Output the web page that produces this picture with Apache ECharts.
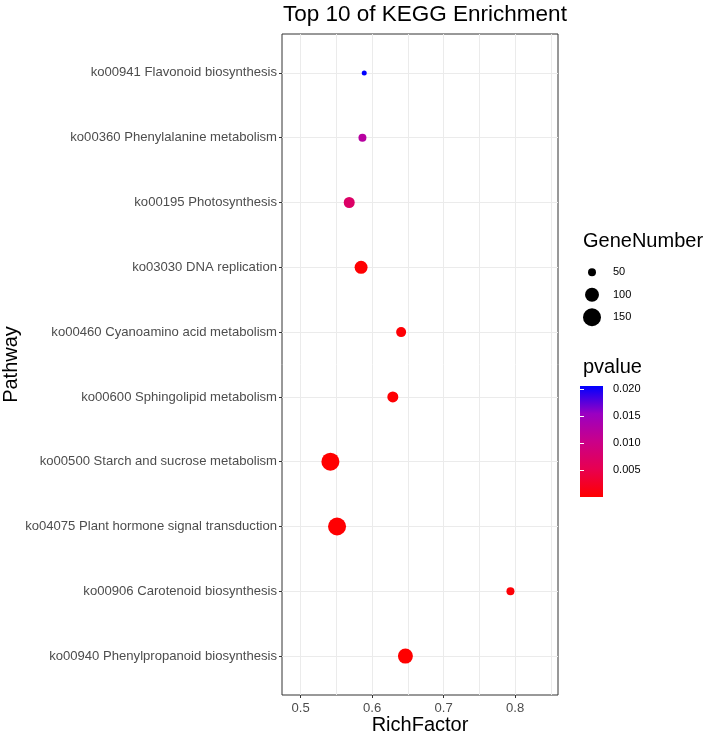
<!DOCTYPE html>
<html>
<head>
<meta charset="utf-8">
<script src="https://cdn.jsdelivr.net/npm/echarts@6/dist/echarts.min.js"></script>
<style>html,body{margin:0;padding:0;background:#fff;}#c{width:708px;height:737px;}</style>
</head>
<body>
<div id="c"></div>
<script>
// Data (top to bottom)
const pathways = [
  'ko00941 Flavonoid biosynthesis',
  'ko00360 Phenylalanine metabolism',
  'ko00195 Photosynthesis',
  'ko03030 DNA replication',
  'ko00460 Cyanoamino acid metabolism',
  'ko00600 Sphingolipid metabolism',
  'ko00500 Starch and sucrose metabolism',
  'ko04075 Plant hormone signal transduction',
  'ko00906 Carotenoid biosynthesis',
  'ko00940 Phenylpropanoid biosynthesis'
];
const richFactor = [0.589, 0.5865, 0.568, 0.5846, 0.6406, 0.629, 0.5417, 0.551, 0.7935, 0.6466];
const geneNumber = [35, 50, 72, 90, 64, 72, 150, 150, 50, 112];
const pvalue = [0.0206, 0.0124, 0.0072, 0.0002, 0.0004, 0.0003, 0.0001, 0.0002, 0.0005, 0.0001];
const sizeLegendValues = [50, 100, 150];
const pTickValues = [0.005, 0.010, 0.015, 0.020];
const xTickValues = [0.5, 0.6, 0.7, 0.8];
const xGridValues = [0.5, 0.55, 0.6, 0.65, 0.7, 0.75, 0.8, 0.85];

const pMin = Math.min(...pvalue), pMax = Math.max(...pvalue);
const gradColors = ['#FF0000', '#E80050', '#CA0089', '#9A00C2', '#0000FF'];
function sizeOf(n) { return Math.sqrt(Math.max(2.6 * n - 66, 9)); }

const chart = echarts.init(document.getElementById('c'), null, {renderer: 'canvas'});
const txt = '#4D4D4D';
const font = 'Liberation Sans, Arial, Helvetica, sans-serif';

const mainData = pathways.map((p, i) => [richFactor[i], i, geneNumber[i], pvalue[i]]);

chart.setOption({
  backgroundColor: '#fff',
  textStyle: {fontFamily: font},
  title: {
    text: 'Top 10 of KEGG Enrichment',
    left: 283, top: 3, padding: 0,
    textStyle: {fontSize: 22.5, fontWeight: 'normal', color: '#000', fontFamily: font}
  },
  visualMap: {
    show: false, type: 'continuous', seriesIndex: 0, dimension: 3,
    min: pMin, max: pMax,
    inRange: {color: gradColors}
  },
  grid: [
    {left: 282, right: 150, top: 34, bottom: 42, show: true, borderColor: '#333333', borderWidth: 1,
      backgroundColor: '#fff', z: 0, outerBoundsMode: 'none', containLabel: false},
    {left: 580, width: 24, top: 261, height: 67.5, show: false, outerBoundsMode: 'none', containLabel: false},
    {left: 580, width: 23, top: 386, height: 111, show: true, borderWidth: 0, outerBoundsMode: 'none', containLabel: false,
      backgroundColor: new echarts.graphic.LinearGradient(0, 1, 0, 0,
        gradColors.map((c, i) => ({offset: i / (gradColors.length - 1), color: c})))}
  ],
  xAxis: [
    {
      gridIndex: 0, type: 'value', min: 0.474, max: 0.86, position: 'bottom',
      name: 'RichFactor', nameLocation: 'middle', nameGap: 20,
      nameTextStyle: {fontSize: 20, color: '#000', fontFamily: font},
      axisLine: {show: false},
      axisTick: {show: false, customValues: xGridValues},
      axisLabel: {show: false, customValues: xGridValues},
      splitLine: {show: true, lineStyle: {color: '#EBEBEB', width: 1}}
    },
    {
      gridIndex: 0, type: 'value', min: 0.474, max: 0.86, position: 'bottom',
      axisLine: {show: false},
      axisTick: {show: true, length: 3, customValues: xTickValues, lineStyle: {color: '#333333'}},
      axisLabel: {show: true, customValues: xTickValues, fontSize: 13.1, color: txt, margin: 7,
        formatter: v => v.toFixed(1)},
      splitLine: {show: false}
    },
    {gridIndex: 1, type: 'value', min: 0, max: 1, show: false},
    {gridIndex: 2, type: 'value', min: 0, max: 1, show: false}
  ],
  yAxis: [
    {
      gridIndex: 0, type: 'value', min: -0.6, max: 9.6, inverse: true,
      name: 'Pathway', nameLocation: 'middle', nameGap: 254, nameRotate: 90,
      nameTextStyle: {fontSize: 20, color: '#000', fontFamily: font},
      axisLine: {show: false},
      axisTick: {show: true, length: 3, customValues: pathways.map((p, i) => i), lineStyle: {color: '#333333'}},
      axisLabel: {show: true, customValues: pathways.map((p, i) => i), fontSize: 13.1, color: txt, margin: 5,
        formatter: v => pathways[Math.round(v)]},
      splitLine: {show: true, lineStyle: {color: '#EBEBEB', width: 1}}
    },
    {
      gridIndex: 1, type: 'category', data: sizeLegendValues.map(String), inverse: true, position: 'right',
      axisLine: {show: false}, axisTick: {show: false},
      axisLabel: {fontSize: 11, color: '#000', margin: 9, align: 'left'}
    },
    {
      gridIndex: 2, type: 'value', min: pMin, max: pMax, position: 'right',
      axisLine: {show: false},
      axisTick: {show: true, inside: true, length: 4, customValues: pTickValues, lineStyle: {color: '#fff', width: 1}},
      axisLabel: {show: true, customValues: pTickValues, fontSize: 11, color: '#000', margin: 10,
        formatter: v => v.toFixed(3)},
      splitLine: {show: false}
    },
    {
      gridIndex: 2, type: 'value', min: pMin, max: pMax, position: 'left',
      axisLine: {show: false},
      axisTick: {show: true, inside: true, length: 4, customValues: pTickValues, lineStyle: {color: '#fff', width: 1}},
      axisLabel: {show: false},
      splitLine: {show: false}
    }
  ],
  graphic: [
    {type: 'text', left: 583, top: 231, style: {text: 'GeneNumber', fontSize: 20, fill: '#000', fontFamily: font}},
    {type: 'text', left: 583, top: 357, style: {text: 'pvalue', fontSize: 20, fill: '#000', fontFamily: font}}
  ],
  series: [
    {
      type: 'scatter', xAxisIndex: 0, yAxisIndex: 0,
      data: mainData,
      symbolSize: d => sizeOf(d[2]),
      itemStyle: {opacity: 1},
      z: 5
    },
    {
      type: 'scatter', xAxisIndex: 2, yAxisIndex: 1,
      data: sizeLegendValues.map((v, i) => [0.5, i, v]),
      symbolSize: d => sizeOf(d[2]),
      itemStyle: {color: '#000', opacity: 1}
    }
  ]
});
</script>
</body>
</html>
